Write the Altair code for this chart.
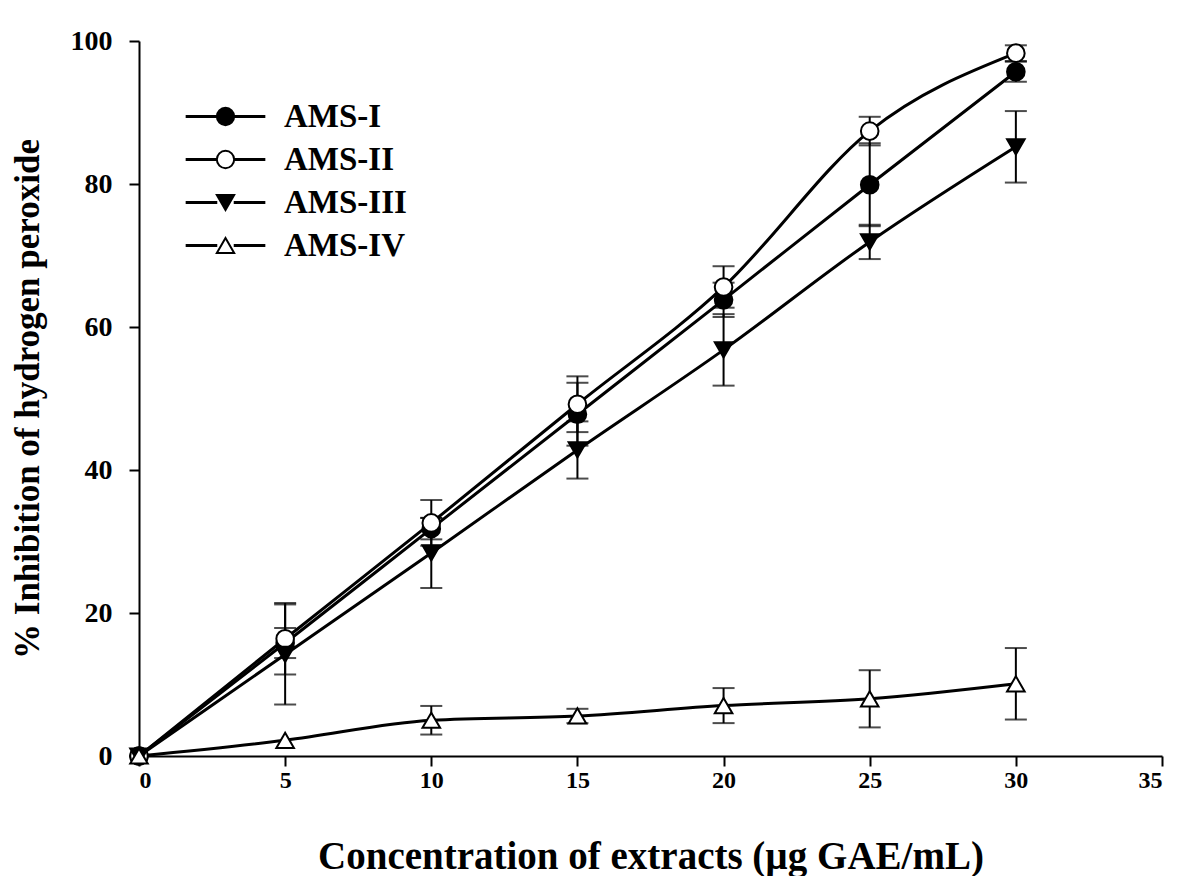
import altair as alt
import pandas as pd

conc = [0, 5, 10, 15, 20, 25, 30]
series_names = ["AMS-I", "AMS-II", "AMS-III", "AMS-IV"]
ams1 = [0, 15.8, 31.8, 47.8, 63.8, 79.9, 95.7]
ams1_err = [0, 2.1, 1.5, 4.4, 2.4, 5.8, 1.4]
ams2 = [0, 16.4, 32.6, 49.2, 65.6, 87.4, 98.3]
ams2_err = [0, 5.0, 3.2, 3.9, 2.9, 2.0, 1.1]
ams3 = [0, 14.2, 28.4, 42.8, 56.8, 71.9, 85.2]
ams3_err = [0, 7.0, 4.9, 4.0, 5.0, 2.4, 5.0]
ams4 = [0, 2.2, 5.0, 5.6, 7.05, 8.0, 10.1]
ams4_err = [0, 0, 2.0, 1.0, 2.45, 4.0, 5.0]

x_ticks = [0, 5, 10, 15, 20, 25, 30, 35]
y_ticks = [0, 20, 40, 60, 80, 100]

shapes = ["circle", "circle", "triangle-down", "triangle-up"]
fills = ["black", "white", "black", "white"]

rows = []
for name, vals, errs in zip(series_names, [ams1, ams2, ams3, ams4],
                            [ams1_err, ams2_err, ams3_err, ams4_err]):
    for c, v, e in zip(conc, vals, errs):
        rows.append({"series": name, "name": name, "conc": c, "val": v,
                     "err": e, "lo": v - e, "hi": v + e})
df = pd.DataFrame(rows)

FONT = "Liberation Serif"
LX, LY = 70, 59
LFS = 33
ROWPAD = 9
LOFF = 42

xscale = alt.Scale(domain=[0, 35], nice=False)
yscale = alt.Scale(domain=[0, 100], nice=False)

xenc = alt.X("conc:Q", scale=xscale,
             axis=alt.Axis(values=x_ticks, title="Concentration of extracts (µg GAE/mL)"))
yenc = alt.Y("val:Q", scale=yscale,
             axis=alt.Axis(values=y_ticks, title="% Inhibition of hydrogen peroxide"))

base = alt.Chart(df)

lines = base.mark_line(interpolate="monotone", strokeWidth=3).encode(
    x=xenc, y=yenc,
    color=alt.Color("name:N", sort=series_names,
                    scale=alt.Scale(range=["black"] * 4),
                    legend=alt.Legend(
                        title=None, orient="none", legendX=LX, legendY=LY,
                        symbolType="M-4.6,0H-0.95M0.95,0H4.6",
                        symbolSize=300, symbolStrokeWidth=3,
                        symbolFillColor="transparent",
                        labelFont=FONT, labelFontSize=LFS, labelFontWeight="bold",
                        labelColor="black", labelOffset=LOFF, rowPadding=ROWPAD,
                        padding=0, labelLimit=400)),
    detail="series:N",
)

eb = base.transform_filter("datum.err > 0")
err_rules = eb.mark_rule(color="black", strokeWidth=2).encode(
    x="conc:Q", y="lo:Q", y2="hi:Q")
err_lo = eb.mark_tick(color="black", thickness=2, size=22, orient="horizontal").encode(
    x="conc:Q", y="lo:Q")
err_hi = eb.mark_tick(color="black", thickness=2, size=22, orient="horizontal").encode(
    x="conc:Q", y="hi:Q")

pleg = alt.Legend(
    title=None, orient="none", legendX=LX, legendY=LY,
    symbolSize=300, symbolStrokeWidth=2,
    labelFont=FONT, labelFontSize=LFS, labelFontWeight="bold",
    labelOpacity=0, labelOffset=LOFF, rowPadding=ROWPAD,
    padding=0, labelLimit=400)

points = base.mark_point(size=310, strokeWidth=2, opacity=1, filled=True).encode(
    x=xenc, y=yenc,
    shape=alt.Shape("series:N", sort=series_names,
                    scale=alt.Scale(domain=series_names, range=shapes),
                    legend=pleg),
    fill=alt.Fill("series:N", sort=series_names,
                  scale=alt.Scale(domain=series_names, range=fills),
                  legend=pleg),
    stroke=alt.Stroke("series:N", sort=series_names,
                      scale=alt.Scale(domain=series_names, range=["black"] * 4),
                      legend=pleg),
)

chart = alt.layer(lines, err_rules, err_lo, err_hi, points).properties(
    width=1023, height=715,
    autosize=alt.AutoSizeParams(type="none"),
    padding={"left": 131, "top": 33, "right": 30, "bottom": 120},
    background="white",
).configure_view(stroke=None).configure_axis(
    grid=False, domainColor="black", domainWidth=2, tickColor="black",
    tickWidth=2, tickSize=10, labelFont=FONT, labelFontWeight="bold",
    labelColor="black", titleFont=FONT, titleFontWeight="bold", titleColor="black",
).configure_axisX(
    labelFontSize=24, labelPadding=2, titleFontSize=39, titlePadding=45,
    labelAngle=0,
).configure_axisY(
    labelFontSize=28, labelPadding=17, titleFontSize=35, titlePadding=25,
)

chart.save("out.html", embed_options={"renderer": "svg", "actions": False})
